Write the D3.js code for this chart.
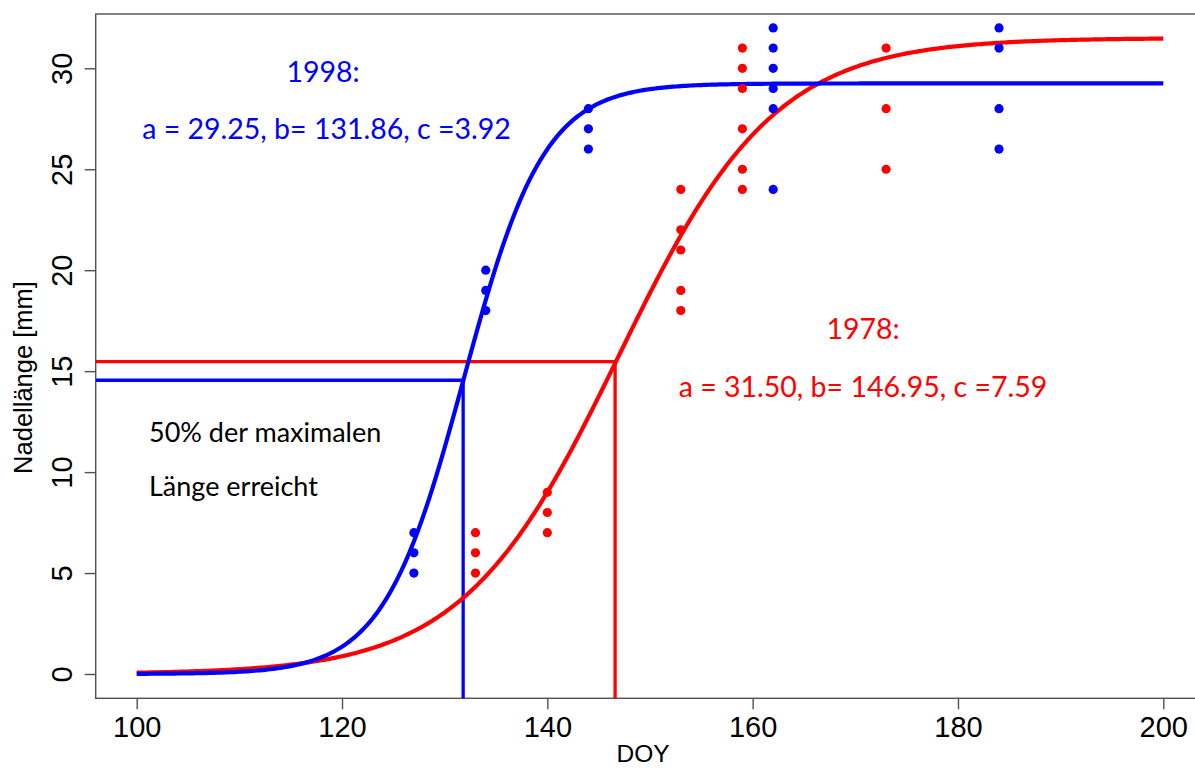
<!DOCTYPE html>
<html>
<head>
<meta charset="utf-8">
<script src="https://cdn.jsdelivr.net/npm/d3@7"></script>
<style>
  html, body { margin: 0; padding: 0; background: #fff; }
  svg { display: block; }
</style>
</head>
<body>
<svg id="chart" width="1195" height="768"></svg>
<script>
// ---- data ----
const xTicks = [100, 120, 140, 160, 180, 200];
const yTicks = [0, 5, 10, 15, 20, 25, 30];

const blueX = [127, 127, 127, 134, 134, 134, 144, 144, 144, 162, 162, 162, 162, 162, 162, 184, 184, 184, 184];
const blueY = [5, 6, 7, 18, 19, 20, 26, 27, 28, 24, 28, 29, 30, 31, 32, 26, 28, 31, 32];
const redX = [133, 133, 133, 140, 140, 140, 153, 153, 153, 153, 153, 159, 159, 159, 159, 159, 159, 173, 173, 173];
const redY = [5, 6, 7, 7, 8, 9, 18, 19, 21, 22, 24, 24, 25, 27, 29, 30, 31, 25, 28, 31];

// fitted logistic parameters a, b, c as printed on the chart
const params1998 = [29.25, 131.86, 3.92];
const params1978 = [31.50, 146.95, 7.59];
const curveDomain = [100, 200];

// 50% guide lines: [DOY, length]
const guide1998 = [131.8, 14.55];
const guide1978 = [146.6, 15.47];

const labels1998 = ["1998:", "a = 29.25, b= 131.86, c =3.92"];
const labels1978 = ["1978:", "a = 31.50, b= 146.95, c =7.59"];
const noteLines = ["50% der maximalen", "Länge erreicht"];

// ---- drawing ----
const BLUE = "#0000ff", RED = "#ff0000";
const svg = d3.select("#chart");
const x = d3.scaleLinear().domain([100, 200]).range([136.7, 1163.3]);
const y = d3.scaleLinear().domain([0, 30]).range([674, 68.3]);
const box = { left: 95.7, right: 1210, top: 14, bottom: 698.3 };

// frame
svg.append("rect")
  .attr("x", box.left).attr("y", box.top)
  .attr("width", box.right - box.left).attr("height", box.bottom - box.top)
  .attr("fill", "none").attr("stroke", "#505050").attr("stroke-width", 1.4);

// axes
const xAxis = d3.axisBottom(x).tickValues(xTicks).tickSize(11).tickPadding(4).tickFormat(d3.format("d"));
const gx = svg.append("g").attr("transform", `translate(0,${box.bottom})`).call(xAxis);
gx.select(".domain").remove();
gx.selectAll(".tick line").attr("stroke", "#505050").attr("stroke-width", 1.4);
gx.selectAll(".tick text")
  .attr("font-family", "Liberation Sans, Arial, sans-serif")
  .attr("font-size", 29).attr("fill", "#000")
  .attr("dy", null).attr("y", 38.5);

const yAxis = d3.axisLeft(y).tickValues(yTicks).tickSize(11).tickFormat(d3.format("d"));
const gy = svg.append("g").attr("transform", `translate(${box.left},0)`).call(yAxis);
gy.select(".domain").remove();
gy.selectAll(".tick line").attr("stroke", "#505050").attr("stroke-width", 1.4);
gy.selectAll(".tick text")
  .attr("font-family", "Liberation Sans, Arial, sans-serif")
  .attr("font-size", 29).attr("fill", "#000")
  .attr("x", null).attr("dy", null)
  .attr("text-anchor", "middle")
  .attr("transform", "translate(-24,0) rotate(-90)");

// axis titles
svg.append("text")
  .attr("transform", `translate(32,${377.5}) rotate(-90)`)
  .attr("text-anchor", "middle")
  .attr("font-family", "Liberation Sans, Arial, sans-serif")
  .attr("font-size", 25.5).attr("fill", "#000")
  .text("Nadellänge [mm]");
svg.append("text")
  .attr("x", 643).attr("y", 762)
  .attr("text-anchor", "middle")
  .attr("font-family", "Liberation Sans, Arial, sans-serif")
  .attr("font-size", 24.5).attr("fill", "#000")
  .text("DOY");

// clip to plotting region
svg.append("clipPath").attr("id", "plotclip").append("rect")
  .attr("x", box.left).attr("y", box.top)
  .attr("width", box.right - box.left).attr("height", box.bottom - box.top);
const plot = svg.append("g").attr("clip-path", "url(#plotclip)");

// guide lines
function guide(g, color) {
  plot.append("path")
    .attr("d", `M${box.left},${y(g[1])}H${x(g[0])}V${box.bottom}`)
    .attr("fill", "none").attr("stroke", color).attr("stroke-width", 3.3);
}
guide(guide1978, RED);
guide(guide1998, BLUE);

// fitted curves
function logistic(p) { return t => p[0] / (1 + Math.exp(-(t - p[1]) / p[2])); }
const days = d3.range(curveDomain[0], curveDomain[1] + 0.001, 0.25);
const line = d3.line().x(d => x(d[0])).y(d => y(d[1]));
const f78 = logistic(params1978), f98 = logistic(params1998);
plot.append("path").datum(days.map(t => [t, f78(t)]))
  .attr("d", line).attr("fill", "none").attr("stroke", RED).attr("stroke-width", 4.2);
plot.append("path").datum(days.map(t => [t, f98(t)]))
  .attr("d", line).attr("fill", "none").attr("stroke", BLUE).attr("stroke-width", 4.2);

// points
plot.selectAll(".pr").data(redX.map((d, i) => [d, redY[i]])).enter()
  .append("circle").attr("cx", d => x(d[0])).attr("cy", d => y(d[1]))
  .attr("r", 4.6).attr("fill", RED);
plot.selectAll(".pb").data(blueX.map((d, i) => [d, blueY[i]])).enter()
  .append("circle").attr("cx", d => x(d[0])).attr("cy", d => y(d[1]))
  .attr("r", 4.6).attr("fill", BLUE);

// annotations
const annFont = "Lato, 'Open Sans', sans-serif";
svg.append("text").attr("x", 323).attr("y", 81.7).attr("text-anchor", "middle")
  .attr("font-family", annFont).attr("font-size", 28.5).attr("fill", BLUE).text(labels1998[0]);
svg.append("text").attr("x", 326.5).attr("y", 139).attr("text-anchor", "middle")
  .attr("font-family", annFont).attr("font-size", 28.5).attr("fill", BLUE).text(labels1998[1]);
svg.append("text").attr("x", 863).attr("y", 339).attr("text-anchor", "middle")
  .attr("font-family", annFont).attr("font-size", 28.5).attr("fill", RED).text(labels1978[0]);
svg.append("text").attr("x", 863).attr("y", 396.7).attr("text-anchor", "middle")
  .attr("font-family", annFont).attr("font-size", 28.5).attr("fill", RED).text(labels1978[1]);
svg.append("text").attr("x", 149).attr("y", 441.7)
  .attr("font-family", annFont).attr("font-size", 27).attr("fill", "#000").text(noteLines[0]);
svg.append("text").attr("x", 149).attr("y", 496)
  .attr("font-family", annFont).attr("font-size", 27).attr("fill", "#000").text(noteLines[1]);
</script>
</body>
</html>
